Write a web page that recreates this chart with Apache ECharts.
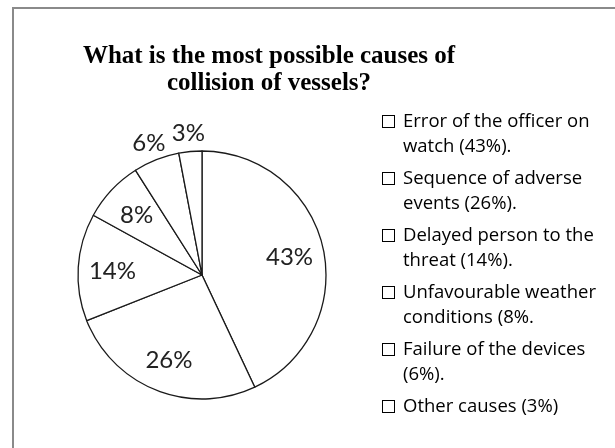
<!DOCTYPE html>
<html>
<head>
<meta charset="utf-8">
<script src="https://cdn.jsdelivr.net/npm/echarts@6/dist/echarts.min.js"></script>
<style>
  html, body { margin: 0; padding: 0; background: #fff; }
  #chart { width: 615px; height: 448px; }
</style>
</head>
<body>
<div id="chart"></div>
<script>
// Causes of vessel collisions, share of answers in percent
const causes = [
  'Error of the officer on watch (43%).',
  'Sequence of adverse events (26%).',
  'Delayed person to the threat (14%).',
  'Unfavourable weather conditions (8%.',
  'Failure of the devices (6%).',
  'Other causes (3%)'
];
const shares = [43, 26, 14, 8, 6, 3];
// Legend text as it wraps in the key
const legendLines = [
  ['Error of the officer on', 'watch (43%).'],
  ['Sequence of adverse', 'events (26%).'],
  ['Delayed person to the', 'threat (14%).'],
  ['Unfavourable weather', 'conditions (8%.'],
  ['Failure of the devices', '(6%).'],
  ['Other causes (3%)']
];
const titleText = 'What is the most possible causes of\ncollision of vessels?';

const CX = 202, CY = 275, R = 124;
const LABEL_FONT = 'Lato, "Open Sans", sans-serif';
const KEY_FONT = '"Open Sans", Lato, sans-serif';

const chart = echarts.init(document.getElementById('chart'), null, { renderer: 'canvas' });

const legendText = {};
causes.forEach((name, i) => { legendText[name] = legendLines[i]; });

chart.setOption({
  backgroundColor: '#ffffff',
  animation: false,
  graphic: [{
    type: 'rect',
    silent: true,
    shape: { x: 13, y: 8, width: 700, height: 600 },
    style: { fill: 'none', stroke: '#8a8a8a', lineWidth: 2 }
  }],
  title: {
    text: titleText,
    left: 269,
    top: 43,
    padding: 0,
    textAlign: 'center',
    textStyle: {
      fontFamily: '"Liberation Serif", "DejaVu Serif", serif',
      fontWeight: 'bold',
      fontSize: 25,
      lineHeight: 27,
      color: '#000'
    }
  },
  legend: {
    orient: 'vertical',
    left: 377,
    top: 109,
    padding: 0,
    itemWidth: 0,
    itemHeight: 0,
    itemGap: 7,
    selectedMode: false,
    data: causes,
    formatter: name => {
      const lines = legendText[name];
      let s = '{box|}{gap|}{t|' + lines[0] + '}';
      for (let k = 1; k < lines.length; k++) s += '\n{pad|}{t|' + lines[k] + '}';
      return s;
    },
    textStyle: {
      color: '#000',
      fontFamily: KEY_FONT,
      fontSize: 18,
      lineHeight: 25,
      rich: {
        box: { width: 11, height: 11, borderColor: '#000', borderWidth: 1, backgroundColor: '#fff', lineHeight: 25 },
        gap: { width: 9, lineHeight: 25 },
        pad: { width: 20, lineHeight: 25 },
        t: { fontFamily: KEY_FONT, fontSize: 18.5, lineHeight: 25, color: '#000' }
      }
    }
  },
  series: [{
    type: 'pie',
    center: [CX, CY],
    radius: R,
    startAngle: 90,
    clockwise: true,
    silent: true,
    avoidLabelOverlap: false,
    data: causes.map((name, i) => ({ name: name, value: shares[i] })),
    itemStyle: { color: '#ffffff', borderColor: '#1a1a1a', borderWidth: 1.3 },
    label: {
      show: true,
      position: 'inside',
      formatter: '{c}%',
      fontFamily: LABEL_FONT,
      fontSize: 24,
      color: '#222'
    },
    labelLine: { show: false },
    labelLayout: params => {
      const r = params.labelRect;
      const lx = r.x + r.width / 2, ly = r.y + r.height / 2;
      const v = shares[params.dataIndex];
      // small slices carry their labels just outside the rim
      const k = (v < 8 ? 1.11 : 0.69) / 0.5;
      return { x: CX + (lx - CX) * k, y: CY + (ly - CY) * k + 2 };
    }
  }]
});
</script>
</body>
</html>
